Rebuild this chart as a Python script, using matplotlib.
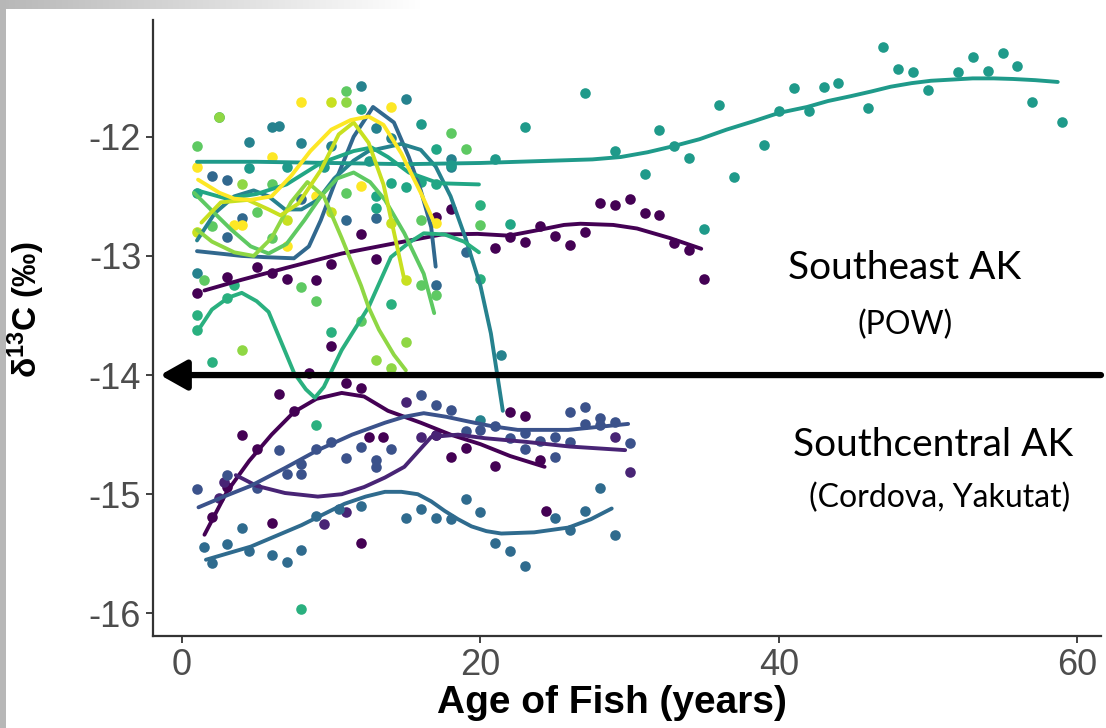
import numpy as np
import matplotlib.pyplot as plt

# ---- Southeast AK (POW) fish: dots + smoothed fits ----
se1_age = [1, 3, 5, 6, 7, 9, 10, 10, 12, 13, 17, 18, 21, 22, 23, 24, 25, 26, 27, 28, 29, 30, 31, 32, 33, 34, 35]
se1_val = [-13.31, -13.18, -13.09, -13.14, -13.19, -13.2, -13.07, -13.76, -12.82, -13.03, -12.67, -12.61, -12.93,
           -12.84, -12.88, -12.75, -12.83, -12.91, -12.8, -12.56, -12.57, -12.52, -12.64, -12.66, -12.89, -12.95, -13.19]
se1_fit_age = [1.5, 4, 7, 10.7, 14, 17.4, 19.8, 21.9, 24, 25.6, 26.7, 28.9, 30.5, 32.7, 34.8]
se1_fit_val = [-13.29, -13.2, -13.1, -12.98, -12.9, -12.82, -12.815, -12.83, -12.78, -12.74, -12.73, -12.74, -12.77,
               -12.85, -12.94]

se2_age = [2.5, 4.5, 7, 9.5, 12.5, 16, 18, 21, 23, 27, 29, 31, 32, 33, 34, 35, 36, 37, 39, 40, 41, 42, 43, 44, 46,
           47, 48, 49, 50, 52, 53, 54, 55, 56, 57, 59]
se2_val = [-11.83, -12.26, -12.25, -12.25, -12.2, -11.89, -12.24, -12.19, -11.92, -11.63, -12.12, -12.31, -11.94,
           -12.08, -12.18, -12.77, -11.73, -12.34, -12.07, -11.78, -11.59, -11.78, -11.58, -11.55, -11.76, -11.25,
           -11.43, -11.46, -11.61, -11.46, -11.33, -11.45, -11.30, -11.41, -11.71, -11.88]
se2_fit_age = [1, 5, 10, 15, 20, 25, 27.5, 29.4, 31.2, 32.9, 34.7, 36.5, 38.3, 40, 41.9, 43.3, 44.8, 46.2, 47.5,
               48.9, 50.2, 51.6, 53, 54.4, 55.7, 57.2, 58.7]
se2_fit_val = [-12.21, -12.21, -12.22, -12.23, -12.22, -12.2, -12.19, -12.17, -12.13, -12.08, -12.02, -11.94, -11.87,
               -11.8, -11.75, -11.7, -11.66, -11.62, -11.58, -11.55, -11.53, -11.52, -11.51, -11.51, -11.515,
               -11.525, -11.54]

se3_age = [1, 1, 2, 3, 3.5, 8, 9, 10, 14, 20, 20]
se3_val = [-13.5, -13.62, -13.89, -13.35, -13.24, -15.96, -14.42, -13.64, -13.4, -13.19, -12.57]
se3_fit_age = [1.1, 2, 3.1, 4, 5, 5.8, 6.6, 7.5, 8.3, 8.9, 9.5, 10.7, 12.5, 14, 15.2, 16.2, 17.6, 18.9, 19.9]
se3_fit_val = [-13.62, -13.45, -13.35, -13.31, -13.38, -13.47, -13.71, -13.98, -14.12, -14.19, -14.1, -13.79, -13.43,
               -13.01, -12.89, -12.81, -12.82, -12.88, -12.97]

se4_age = [1, 4.5, 6, 6.5, 8, 10, 12, 13, 14, 15, 18, 18, 20, 21.4]
se4_val = [-13.14, -12.04, -11.92, -11.91, -12.05, -12.08, -11.57, -11.93, -12.01, -11.68, -12.19, -12.25, -14.38,
           -13.83]
se4_fit_age = [1, 2.2, 3.5, 4.8, 5.8, 6.9, 8, 9.1, 10.2, 11.5, 12.5, 13.6, 14.7, 16, 17, 18, 19, 20, 20.7, 21.5]
se4_fit_val = [-12.87, -12.64, -12.5, -12.45, -12.5, -12.61, -12.61, -12.53, -12.35, -12.2, -12.12, -12.09, -12.06,
               -12.11, -12.25, -12.5, -12.85, -13.25, -13.65, -14.3]

se5_age = [1, 12, 13, 13, 14, 15, 16, 17, 17, 22]
se5_val = [-12.47, -11.77, -12.5, -12.6, -12.39, -12.42, -12.38, -12.4, -12.1, -12.73]
se5_fit_age = [1, 3, 5, 7, 9.3, 11.5, 12.7, 13.8, 15.2, 17.2, 19.9]
se5_fit_val = [-12.45, -12.52, -12.48, -12.4, -12.22, -12.12, -12.09, -12.17, -12.3, -12.39, -12.4]

se6_age = [2, 3, 3, 4, 8, 11, 13, 17, 19]
se6_val = [-12.33, -12.36, -12.84, -12.68, -12.52, -12.7, -12.68, -13.24, -12.97]
se6_fit_age = [1, 2.5, 4, 5.5, 7.5, 8.5, 9.3, 10.2, 11.5, 12.8, 14.2, 15.2, 16, 16.7, 17]
se6_fit_val = [-12.96, -12.98, -13.0, -13.01, -13.02, -12.92, -12.7, -12.4, -12.0, -11.75, -11.88, -12.17, -12.45,
               -12.76, -13.09]

se7_age = [1, 3.5, 4, 6, 7, 8, 9, 12, 14, 17]
se7_val = [-12.25, -12.74, -12.74, -12.17, -12.92, -11.71, -12.5, -12.41, -11.75, -12.72]
se7_fit_age = [1.07, 2.5, 3.5, 4.6, 6, 7.3, 8.6, 10, 11.3, 12.5, 13.5, 14.7, 16, 16.9]
se7_fit_val = [-12.36, -12.47, -12.52, -12.53, -12.5, -12.33, -12.12, -11.94, -11.86, -11.83, -11.9, -12.14, -12.47,
               -12.72]

se8_age = [1, 7, 10, 10, 14, 15]
se8_val = [-12.8, -12.7, -11.71, -12.63, -12.72, -13.2]
se8_fit_age = [1.3, 2.6, 4.4, 5.8, 6.6, 7.8, 9.3, 10.5, 11.5, 12.5, 13.5, 14.2, 14.9]
se8_fit_val = [-12.72, -12.55, -12.53, -12.61, -12.66, -12.56, -12.28, -11.98, -11.88, -12.05, -12.4, -12.8, -13.2]

se9_age = [2.5, 4, 4, 11, 13, 14, 15]
se9_val = [-11.83, -12.4, -13.79, -11.71, -13.87, -13.94, -13.72]
se9_fit_age = [1, 2, 3.5, 4.8, 6, 7.3, 8.4, 9.5, 10.7, 12, 12.5, 13.2, 14.2, 15]
se9_fit_val = [-12.78, -12.88, -12.97, -13.0, -12.85, -12.55, -12.38, -12.5, -12.85, -13.25, -13.43, -13.62, -13.83,
               -13.96]

se10_age = [1, 1.5, 2, 5, 6, 6, 8, 9, 11, 11, 12, 16, 16, 17, 18, 19, 20]
se10_val = [-12.08, -13.2, -12.75, -12.63, -12.4, -12.85, -13.26, -13.38, -11.62, -12.47, -13.55, -12.7, -13.24,
            -13.33, -11.97, -12.1, -12.74]
se10_fit_age = [0.8, 2, 3.3, 4.6, 5.8, 7, 8.2, 9.3, 10.4, 11.5, 12.6, 13.6, 14.9, 16.2, 16.9]
se10_fit_val = [-12.47, -12.62, -12.78, -12.92, -12.98, -12.9, -12.7, -12.5, -12.35, -12.3, -12.38, -12.53, -12.81,
                -13.15, -13.48]

# ---- Southcentral AK (Cordova, Yakutat) fish ----
sc1_age = [2, 3, 4, 5, 6, 6.5, 7.5, 8.5, 11, 12, 12, 12.5, 13.5, 17, 18, 19, 21, 22, 23, 24, 24.4]
sc1_val = [-15.19, -14.94, -14.5, -14.62, -15.24, -14.16, -14.3, -13.98, -14.07, -14.11, -15.41, -14.52, -14.52,
           -14.5, -14.69, -14.61, -14.76, -14.31, -14.34, -14.71, -15.14]
sc1_fit_age = [1.5, 3, 4.5, 6, 7.5, 9, 10.7, 12.2, 13.8, 16, 18, 20, 22, 24.3]
sc1_fit_val = [-15.34, -14.98, -14.72, -14.5, -14.31, -14.2, -14.15, -14.18, -14.3, -14.4, -14.5, -14.58, -14.68,
               -14.77]

sc2_age = [2.5, 2.8, 9.5, 11, 15, 16, 17, 29, 30]
sc2_val = [-15.03, -14.9, -15.25, -15.15, -14.23, -14.52, -14.5, -14.52, -14.81]
sc2_fit_age = [3.6, 5, 6.9, 9.1, 10.7, 12.2, 13.6, 14.9, 16.7, 18.5, 20.3, 23, 26, 29.7]
sc2_fit_val = [-14.84, -14.93, -14.99, -15.02, -15.0, -14.94, -14.86, -14.77, -14.52, -14.5, -14.53, -14.56, -14.6,
               -14.63]

sc3_age = [1, 3, 5, 6.5, 7, 8, 8, 9, 10, 11, 12, 13, 13, 14, 16, 17, 18, 19, 20, 21, 22, 23, 23, 24, 25, 25, 26, 26,
           27, 27, 28, 28, 29, 30]
sc3_val = [-14.96, -14.84, -14.95, -14.63, -14.83, -14.83, -14.75, -14.62, -14.56, -14.7, -14.6, -14.71, -14.77,
           -14.62, -14.17, -14.25, -14.29, -14.47, -14.46, -14.43, -14.53, -14.62, -14.49, -14.55, -14.69, -14.52,
           -14.31, -14.56, -14.27, -14.41, -14.36, -14.42, -14.39, -14.57]
sc3_fit_age = [1.1, 2.8, 4.6, 6.9, 9.1, 11.4, 13.6, 14.9, 16.2, 17.7, 19.2, 20.8, 22.5, 25.9, 29.9]
sc3_fit_val = [-15.11, -15.02, -14.93, -14.78, -14.63, -14.5, -14.4, -14.35, -14.32, -14.35, -14.39, -14.43, -14.46,
               -14.46, -14.41]

sc4_age = [1.5, 2, 3, 4, 4.5, 6, 7, 8, 9, 10.5, 12, 15, 16, 17, 18, 19, 20, 21, 22, 23, 25, 26, 27, 28, 29]
sc4_val = [-15.44, -15.58, -15.42, -15.28, -15.48, -15.51, -15.57, -15.47, -15.18, -15.12, -15.1, -15.2, -15.12,
           -15.2, -15.21, -15.04, -15.15, -15.41, -15.48, -15.6, -15.2, -15.3, -15.14, -14.95, -15.34]
sc4_fit_age = [1.6, 4.6, 8, 10.9, 12.3, 13.6, 14.7, 15.8, 16.7, 17.6, 18.5, 19.4, 20.4, 21.4, 23.6, 25.9, 27.4, 28.8]
sc4_fit_val = [-15.55, -15.44, -15.26, -15.08, -15.02, -14.98, -14.98, -15.0, -15.06, -15.14, -15.21, -15.27, -15.31,
               -15.33, -15.32, -15.28, -15.21, -15.12]

x_ticks = [0, 20, 40, 60]
y_ticks = [-16, -15, -14, -13, -12]

# (points, fit, colour) ordered dark -> light so yellow ends on top
series = [
    (sc1_age, sc1_val, sc1_fit_age, sc1_fit_val, '#440154'),
    (se1_age, se1_val, se1_fit_age, se1_fit_val, '#440154'),
    (sc2_age, sc2_val, sc2_fit_age, sc2_fit_val, '#482475'),
    (sc3_age, sc3_val, sc3_fit_age, sc3_fit_val, '#3b528b'),
    (sc4_age, sc4_val, sc4_fit_age, sc4_fit_val, '#2f6b8e'),
    (se6_age, se6_val, se6_fit_age, se6_fit_val, '#31688e'),
    (se4_age, se4_val, se4_fit_age, se4_fit_val, '#26828e'),
    (se2_age, se2_val, se2_fit_age, se2_fit_val, '#1f9a8a'),
    (se5_age, se5_val, se5_fit_age, se5_fit_val, '#21a685'),
    (se3_age, se3_val, se3_fit_age, se3_fit_val, '#2ab07f'),
    (se10_age, se10_val, se10_fit_age, se10_fit_val, '#5ec962'),
    (se9_age, se9_val, se9_fit_age, se9_fit_val, '#8fd744'),
    (se8_age, se8_val, se8_fit_age, se8_fit_val, '#c8e020'),
    (se7_age, se7_val, se7_fit_age, se7_fit_val, '#fde725'),
]

plt.rcParams['font.family'] = ['Liberation Sans', 'DejaVu Sans']
plt.rcParams['mathtext.default'] = 'regular'
plt.rcParams['axes.unicode_minus'] = False

fig = plt.figure(figsize=(11.06, 7.28), dpi=100)

# grey slide edge behind the chart
bg = np.ones((728, 1106, 3))
ramp = np.clip(0.72 + 0.28 * np.arange(1106) / 420, 0, 1)
bg[:9, :, :] = ramp[None, :, None]
bg[:, :6, :] = 0.72
fig.figimage(bg, zorder=-1)

ax = fig.add_axes([153 / 1106, 92 / 728, 948 / 1106, 616 / 728])
ax.set_facecolor('white')

for a, v, fa, fv, c in series:
    ax.scatter(a, v, s=58, color=c, linewidths=0, zorder=2)
for a, v, fa, fv, c in series:
    ax.plot(fa, fv, color=c, lw=2.8, solid_capstyle='round', solid_joinstyle='round', zorder=3)

ax.annotate('', xy=(-1.47, -14), xytext=(61.6, -14), annotation_clip=False,
            arrowprops=dict(arrowstyle='-|>,head_length=0.8,head_width=0.45', mutation_scale=20,
                            lw=4.5, color='black', shrinkA=0, shrinkB=0), zorder=5)

ax.set_xlim(-1.95, 61.6)
ax.set_ylim(-16.19, -11.02)
ax.set_xticks(x_ticks)
ax.set_yticks(y_ticks)
ax.tick_params(labelsize=26, labelcolor='#4d4d4d', color='#333333', length=5, width=1.3)

for s in ['top', 'right']:
    ax.spines[s].set_visible(False)
for s in ['left', 'bottom']:
    ax.spines[s].set_color('#333333')
    ax.spines[s].set_linewidth(1.6)

ax.set_xlabel('Age of Fish (years)', fontsize=28, fontweight='bold')
ax.xaxis.set_label_coords(0.484, -0.08)
ax.set_ylabel('δ$^{13}$C (‰)', fontsize=24, fontweight='bold')
ax.yaxis.set_label_coords(-0.112, 0.53)

txt = ['Lato', 'DejaVu Sans']
fig.text(905 / 1106, 1 - 268 / 728, 'Southeast AK', fontsize=28, family=txt, ha='center', va='center')
fig.text(905 / 1106, 1 - 325 / 728, '(POW)', fontsize=23, family=txt, ha='center', va='center')
fig.text(933 / 1106, 1 - 445 / 728, 'Southcentral AK', fontsize=28, family=txt, ha='center', va='center')
fig.text(940 / 1106, 1 - 498 / 728, '(Cordova, Yakutat)', fontsize=23, family=txt, ha='center', va='center')

fig.savefig('out.png', dpi=100)
